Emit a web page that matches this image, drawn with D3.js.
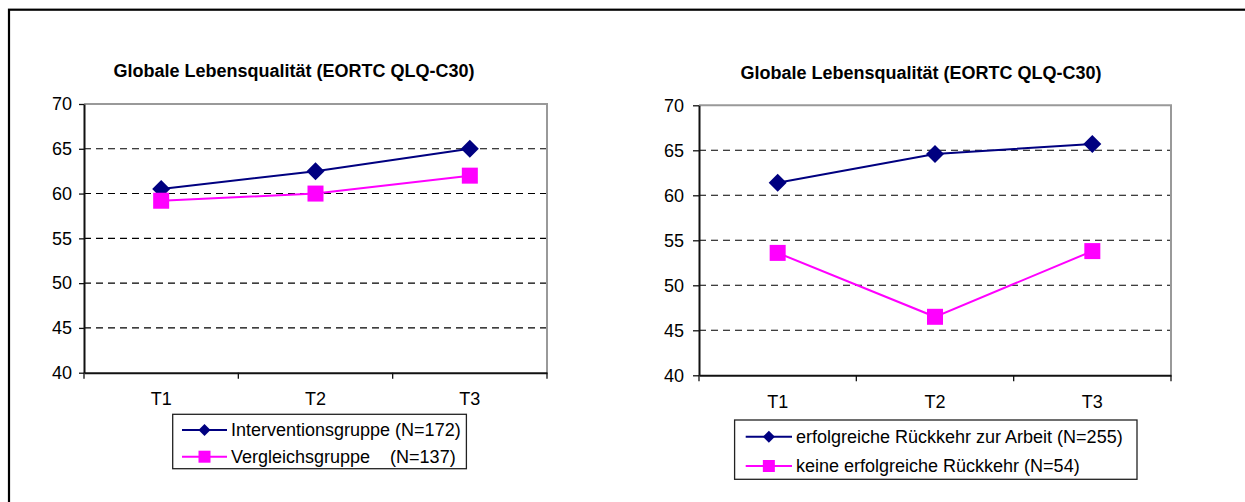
<!DOCTYPE html>
<html>
<head>
<meta charset="utf-8">
<script src="https://cdn.jsdelivr.net/npm/d3@7"></script>
<style>
  html, body { margin: 0; padding: 0; background: #fff; }
  svg { display: block; }
  text { font-family: "Liberation Sans", Arial, sans-serif; fill: #000; }
</style>
</head>
<body>
<svg id="chart" width="1245" height="502"></svg>
<script>
// ---- data ----
const categories = ["T1", "T2", "T3"];
const yTicks = [40, 45, 50, 55, 60, 65, 70];
const titleText = "Globale Lebensqualität (EORTC QLQ-C30)";

const leftSeriesNames = ["Interventionsgruppe (N=172)", "Vergleichsgruppe    (N=137)"];
const leftIntervention = [60.5, 62.5, 65.0];
const leftVergleich = [59.2, 60.0, 62.0];

const rightSeriesNames = ["erfolgreiche Rückkehr zur Arbeit (N=255)", "keine erfolgreiche Rückkehr (N=54)"];
const rightErfolgreich = [61.4, 64.6, 65.7];
const rightKeine = [53.6, 46.5, 53.8];

// ---- layout ----
const svg = d3.select("#chart");
const NAVY = "#000080", MAGENTA = "#FF00FF";

svg.append("rect")
  .attr("x", 9).attr("y", 9.7).attr("width", 1400).attr("height", 700)
  .attr("fill", "none").attr("stroke", "#000").attr("stroke-width", 2.2);

const charts = [
  { x0: 84, x1: 547, yTop: 104, yBot: 372.7, titleX: 294, titleY: 76.5,
    tickLen: 5, tickPad: 7,
    legend: { x0: 172.7, x1: 466.4, y0: 414.3, y1: 468.7, rows: [430, 456.7], lx0: 182, lx1: 227, tx: 231 },
    names: leftSeriesNames, series: [leftIntervention, leftVergleich] },
  { x0: 699, x1: 1171, yTop: 105.3, yBot: 375.3, titleX: 921, titleY: 78.5,
    tickLen: 6, tickPad: 9,
    legend: { x0: 734.6, x1: 1137, y0: 420, y1: 479.3, rows: [436.7, 466], lx0: 745.7, lx1: 792, tx: 796 },
    names: rightSeriesNames, series: [rightErfolgreich, rightKeine] }
];

const styles = [
  { color: NAVY, marker: "diamond", size: 18 },
  { color: MAGENTA, marker: "square", size: 16 }
];

function drawMarker(g, type, cx, cy, size, color) {
  if (type === "diamond") {
    const h = size / 2;
    g.append("path")
      .attr("d", `M${cx},${cy - h}L${cx + h},${cy}L${cx},${cy + h}L${cx - h},${cy}Z`)
      .attr("fill", color);
  } else {
    g.append("rect")
      .attr("x", cx - size / 2).attr("y", cy - size / 2)
      .attr("width", size).attr("height", size)
      .attr("fill", color);
  }
}

charts.forEach(c => {
  const g = svg.append("g");
  const x = d3.scaleBand().domain(categories).range([c.x0, c.x1]).paddingInner(0).paddingOuter(0);
  const y = d3.scaleLinear().domain([40, 70]).range([c.yBot, c.yTop]);

  // title
  g.append("text")
    .attr("x", c.titleX).attr("y", c.titleY)
    .attr("text-anchor", "middle")
    .attr("font-size", 18).attr("font-weight", "bold")
    .text(titleText);

  // dashed gridlines
  g.selectAll(".grid").data(yTicks.filter(v => v > 40 && v < 70)).enter()
    .append("line")
    .attr("x1", c.x0).attr("x2", c.x1)
    .attr("y1", d => y(d)).attr("y2", d => y(d))
    .attr("stroke", "#000").attr("stroke-width", 1.1)
    .attr("stroke-dasharray", "7,5");

  // gray plot border top & right
  g.append("path")
    .attr("d", `M${c.x0},${y(70)}H${c.x1}V${y(40)}`)
    .attr("fill", "none").attr("stroke", "#999").attr("stroke-width", 2);

  // y axis
  const yAxis = d3.axisLeft(y).tickValues(yTicks).tickSize(c.tickLen).tickPadding(c.tickPad).tickSizeOuter(0);
  const ya = g.append("g").attr("transform", `translate(${c.x0},0)`).call(yAxis);
  ya.select(".domain").attr("stroke", "#111").attr("stroke-width", 2);
  ya.selectAll(".tick line").attr("stroke", "#111").attr("stroke-width", 1.3);
  ya.selectAll("text").attr("font-size", 18).attr("font-family", "Liberation Sans, Arial, sans-serif").attr("fill", "#000");

  // x axis labels
  const xAxis = d3.axisBottom(x).tickSize(0).tickPadding(20).tickSizeOuter(0);
  const xa = g.append("g").attr("transform", `translate(0,${c.yBot})`).call(xAxis);
  xa.select(".domain").attr("stroke", "#111").attr("stroke-width", 2);
  xa.selectAll("text").attr("font-size", 18).attr("font-family", "Liberation Sans, Arial, sans-serif").attr("fill", "#000");

  // x ticks at category boundaries
  const bounds = categories.map(d => x(d)).concat([x(categories[categories.length - 1]) + x.bandwidth()]);
  g.selectAll(".xtick").data(bounds).enter().append("line")
    .attr("x1", d => d).attr("x2", d => d)
    .attr("y1", c.yBot).attr("y2", c.yBot + 6)
    .attr("stroke", "#111").attr("stroke-width", 1.3);

  // series
  c.series.forEach((vals, i) => {
    const st = styles[i];
    const line = d3.line().x((d, j) => x(categories[j]) + x.bandwidth() / 2).y(d => y(d));
    g.append("path").datum(vals)
      .attr("d", line).attr("fill", "none")
      .attr("stroke", st.color).attr("stroke-width", 2);
    vals.forEach((v, j) => {
      drawMarker(g, st.marker, x(categories[j]) + x.bandwidth() / 2, y(v), st.size, st.color);
    });
  });

  // legend
  const L = c.legend;
  g.append("rect")
    .attr("x", L.x0).attr("y", L.y0)
    .attr("width", L.x1 - L.x0).attr("height", L.y1 - L.y0)
    .attr("fill", "#fff").attr("stroke", "#222").attr("stroke-width", 1.3);
  c.names.forEach((name, i) => {
    const st = styles[i];
    const ry = L.rows[i];
    g.append("line")
      .attr("x1", L.lx0).attr("x2", L.lx1).attr("y1", ry).attr("y2", ry)
      .attr("stroke", st.color).attr("stroke-width", 2);
    drawMarker(g, st.marker, (L.lx0 + L.lx1) / 2, ry, st.marker === "diamond" ? 12 : 12, st.color);
    g.append("text")
      .attr("x", L.tx).attr("y", ry).attr("dy", "0.35em")
      .attr("font-size", 18)
      .style("white-space", "pre")
      .attr("xml:space", "preserve")
      .text(name);
  });
});
</script>
</body>
</html>
